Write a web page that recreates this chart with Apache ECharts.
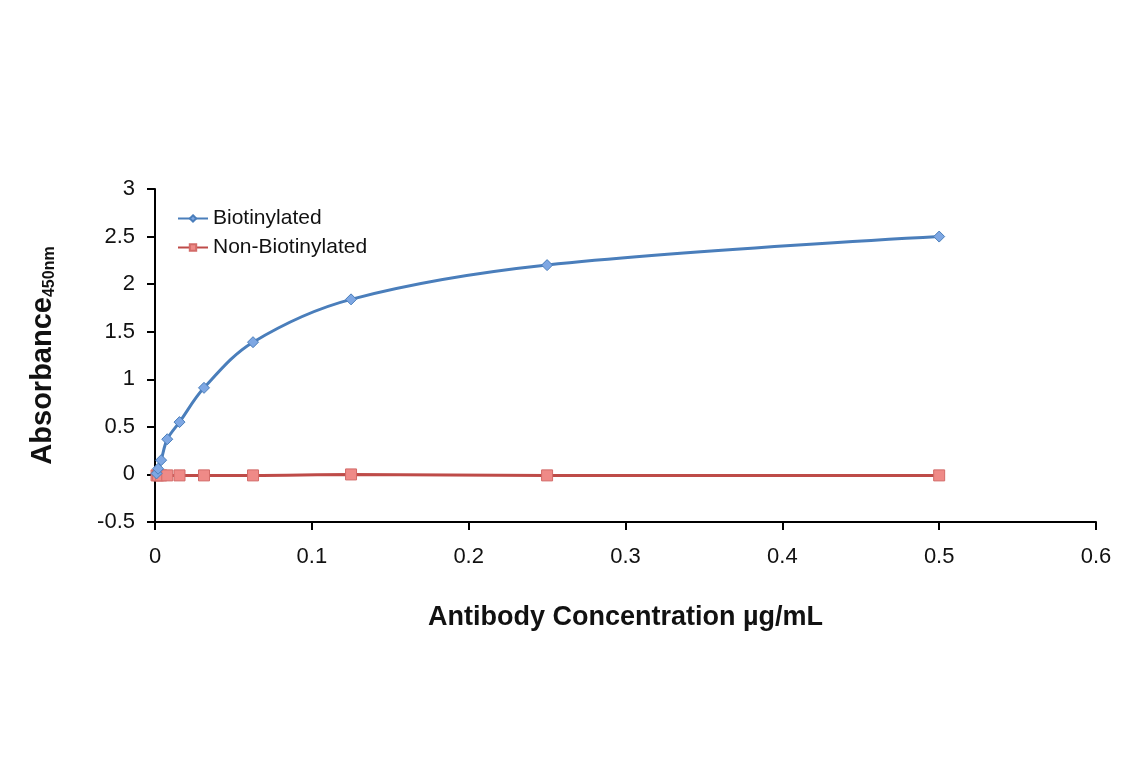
<!DOCTYPE html>
<html><head><meta charset="utf-8">
<script src="https://cdn.jsdelivr.net/npm/echarts@6/dist/echarts.min.js"></script>
<style>html,body{margin:0;padding:0;background:#fff}#c{width:1141px;height:768px}</style>
</head><body><div id="c"></div>
<script>
const concentrations = [0.5, 0.25, 0.125, 0.0625, 0.03125, 0.015625, 0.0078125, 0.00390625, 0.001953125, 0.0009765625];
const biotinylated = [2.50, 2.20, 1.84, 1.39, 0.91, 0.55, 0.37, 0.15, 0.06, 0.01];
const nonBiotinylated = [-0.01, -0.01, 0.00, -0.01, -0.01, -0.01, -0.01, -0.01, -0.01, -0.01];
const xTicks = [0, 0.1, 0.2, 0.3, 0.4, 0.5, 0.6];
const yTicks = [-0.5, 0, 0.5, 1, 1.5, 2, 2.5, 3];

const font = '"Liberation Sans Narrow", "Liberation Sans", Arial, sans-serif';
const pairs = (ys) => concentrations.map((x, i) => [x, ys[i]]).sort((a, b) => a[0] - b[0]);

const chart = echarts.init(document.getElementById('c'));
chart.setOption({
  animation: false,
  backgroundColor: '#fff',
  grid: { left: 155, right: 45, top: 189, bottom: 246 },
  legend: {
    left: 172, top: 203, orient: 'vertical', itemGap: 8,
    itemWidth: 30, itemHeight: 8,
    textStyle: { fontFamily: font, fontSize: 21, color: '#111' },
    data: ['Biotinylated', 'Non-Biotinylated']
  },
  xAxis: {
    type: 'value', min: 0, max: 0.6, interval: 0.1,
    name: 'Antibody Concentration µg/mL', nameLocation: 'middle', nameGap: 82,
    nameTextStyle: { fontFamily: font, fontSize: 27, fontWeight: 'bold', color: '#111' },
    axisLine: { onZero: false, lineStyle: { color: '#000', width: 2 } },
    axisTick: { length: 8, lineStyle: { color: '#000', width: 2 } },
    axisLabel: { fontFamily: font, fontSize: 22, color: '#111', margin: 24,
      formatter: v => xTicks.includes(+v.toFixed(1)) ? String(+v.toFixed(1)) : '' },
    splitLine: { show: false }
  },
  yAxis: {
    type: 'value', min: -0.5, max: 3, interval: 0.5,
    name: '{a|Absorbance}{b|450nm}', nameLocation: 'middle', nameGap: 97, nameRotate: 90,
    nameTextStyle: { rich: {
      a: { fontFamily: font, fontSize: 29, fontWeight: 'bold', color: '#111' },
      b: { fontFamily: font, fontSize: 16, fontWeight: 'bold', color: '#111', verticalAlign: 'bottom', padding: [14, 0, 0, 0] }
    } },
    axisLine: { show: true, lineStyle: { color: '#000', width: 2 } },
    axisTick: { show: true, length: 8, lineStyle: { color: '#000', width: 2 } },
    axisLabel: { fontFamily: font, fontSize: 22, color: '#111', margin: 20,
      formatter: v => { const r = +v.toFixed(1); return yTicks.includes(r) ? String(r) : ''; } },
    splitLine: { show: false }
  },
  series: [
    {
      name: 'Biotinylated', type: 'line', smooth: 0.35, data: pairs(biotinylated),
      symbol: 'diamond', symbolSize: 11, z: 3,
      lineStyle: { color: '#4a7ebb', width: 3 },
      itemStyle: { color: '#7ea7e3', borderColor: '#4a7ebb', borderWidth: 1 }
    },
    {
      name: 'Non-Biotinylated', type: 'line', smooth: 0.35, data: pairs(nonBiotinylated),
      symbol: 'rect', symbolSize: 11, z: 2,
      lineStyle: { color: '#be4b48', width: 3 },
      itemStyle: { color: '#ef8a87', borderColor: '#d36b68', borderWidth: 1 }
    }
  ]
});
</script></body></html>
